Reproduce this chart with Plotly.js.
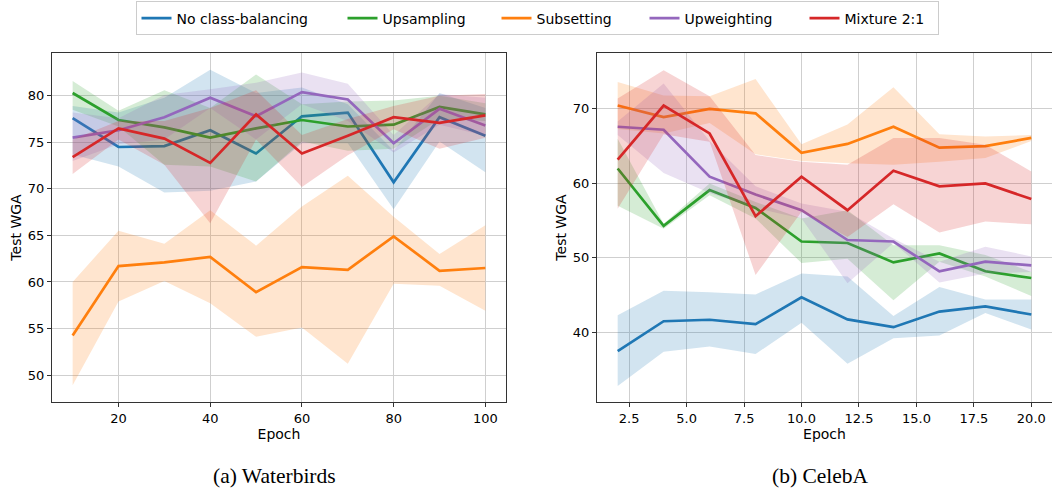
<!DOCTYPE html>
<html>
<head>
<meta charset="utf-8">
<script src="https://cdn.plot.ly/plotly-3.0.1.min.js"></script>
<style>html,body{margin:0;padding:0;background:#fff;}#chart{width:1052px;height:491px;}</style>
</head>
<body>
<div id="chart"></div>
<script>
// ---- Waterbirds (left panel) ----
const epochsA = [10,20,30,40,50,60,70,80,90,100];
const A_none    = [77.6,74.5,74.6,76.3,73.8,77.8,78.2,70.7,77.7,75.7];
const A_none_lo = [73.7,72.4,69.6,69.8,70.8,74.9,74.9,67.8,75.1,71.8];
const A_none_hi = [78.9,78.2,79.8,82.8,80.3,80.9,79.1,74.1,80.3,78.7];
const A_up      = [80.3,77.4,76.6,75.5,76.5,77.4,76.7,76.9,78.8,78.0];
const A_up_lo   = [78.5,76.7,72.6,72.4,70.8,75.1,74.1,74.3,77.5,77.3];
const A_up_hi   = [81.6,78.4,80.6,78.7,82.3,79.1,79.4,79.5,80.0,79.2];
const A_sub     = [54.25,61.7,62.1,62.7,58.9,61.6,61.3,64.9,61.2,61.5];
const A_sub_lo  = [48.9,57.9,60.1,57.7,54.1,55.1,51.2,59.8,59.6,56.9];
const A_sub_hi  = [60.0,65.5,64.1,67.7,63.9,68.1,71.4,67.0,63.0,66.1];
const A_wt      = [75.5,76.3,77.7,79.8,77.8,80.4,79.6,74.9,78.6,76.8];
const A_wt_lo   = [73.0,74.8,75.3,78.7,75.3,79.1,77.3,73.9,76.9,75.7];
const A_wt_hi   = [78.2,77.6,80.1,80.7,81.4,82.5,81.3,75.8,80.2,79.8];
const A_mix     = [73.4,76.5,75.4,72.8,78.0,73.8,75.7,77.7,77.1,77.9];
const A_mix_lo  = [71.6,75.3,72.6,66.3,75.3,70.2,73.6,76.4,74.3,75.5];
const A_mix_hi  = [75.3,77.3,77.3,78.7,80.6,75.8,77.5,78.9,80.0,80.2];

// ---- CelebA (right panel) ----
const epochsB = [2,4,6,8,10,12,14,16,18,20];
const B_none    = [37.5,41.5,41.7,41.1,44.7,41.75,40.7,42.8,43.5,42.4];
const B_none_lo = [32.8,37.4,38.1,37.1,41.3,35.8,39.2,39.6,42.6,40.4];
const B_none_hi = [42.3,45.6,45.4,45.1,47.9,47.5,42.2,46.1,44.4,44.4];
const B_up      = [62.0,54.3,59.1,56.7,52.2,52.0,49.4,50.6,48.2,47.3];
const B_up_lo   = [57.0,53.9,58.4,55.3,49.3,49.9,44.3,49.5,47.5,44.9];
const B_up_hi   = [66.0,54.6,60.0,57.5,55.3,56.4,51.7,51.7,50.4,48.1];
const B_sub     = [70.45,68.9,70.0,69.4,64.1,65.3,67.6,64.8,65.0,66.1];
const B_sub_lo  = [67.3,66.7,68.1,63.9,63.0,62.7,62.5,62.9,63.4,65.7];
const B_sub_hi  = [73.6,71.8,71.7,74.0,65.25,67.9,72.9,66.6,66.3,66.5];
const B_wt      = [67.6,67.2,60.9,58.5,56.4,52.4,52.2,48.2,49.5,49.0];
const B_wt_lo   = [66.5,61.4,58.7,56.7,55.3,46.6,52.0,46.7,47.9,48.1];
const B_wt_hi   = [68.3,73.4,65.7,59.6,57.3,56.2,52.6,49.5,51.5,50.2];
const B_mix     = [63.2,70.45,66.7,55.6,60.9,56.4,61.7,59.6,60.0,57.9];
const B_mix_lo  = [56.6,66.6,65.6,47.7,56.2,52.8,57.2,53.4,54.9,54.5];
const B_mix_hi  = [71.4,75.2,71.7,63.8,62.9,62.5,66.1,66.1,65.2,61.6];

const seriesNames = ['No class-balancing','Upsampling','Subsetting','Upweighting','Mixture 2:1'];
const colors = ['#1f77b4','#2ca02c','#ff7f0e','#9467bd','#d62728'];
const fills = ['rgba(31,119,180,0.2)','rgba(44,160,44,0.2)','rgba(255,127,14,0.2)','rgba(148,103,189,0.2)','rgba(214,39,40,0.2)'];
const legendWidths = [161,109,103,115,88];

const panelA = [[A_none,A_none_lo,A_none_hi],[A_up,A_up_lo,A_up_hi],[A_sub,A_sub_lo,A_sub_hi],[A_wt,A_wt_lo,A_wt_hi],[A_mix,A_mix_lo,A_mix_hi]];
const panelB = [[B_none,B_none_lo,B_none_hi],[B_up,B_up_lo,B_up_hi],[B_sub,B_sub_lo,B_sub_hi],[B_wt,B_wt_lo,B_wt_hi],[B_mix,B_mix_lo,B_mix_hi]];

const traces = [];
function addPanel(epochs, panel, xa, ya, showLegend){
  panel.forEach((s,i)=>{
    const [mean, lo, hi] = s;
    traces.push({
      x: epochs.concat(epochs.slice().reverse()),
      y: hi.concat(lo.slice().reverse()),
      xaxis: xa, yaxis: ya, type:'scatter', mode:'lines',
      fill:'toself', fillcolor: fills[i], line:{width:0, color:'rgba(0,0,0,0)'},
      showlegend:false, hoverinfo:'skip'
    });
    traces.push({
      x: epochs, y: mean, xaxis: xa, yaxis: ya, type:'scatter', mode:'lines',
      name: seriesNames[i], line:{color: colors[i], width:2.7},
      showlegend: showLegend, legendwidth: legendWidths[i]
    });
  });
}
addPanel(epochsA, panelA, 'x', 'y', true);
addPanel(epochsB, panelB, 'x2', 'y2', false);

const font = 'DejaVu Sans, sans-serif';
const axisCommon = {
  showgrid:true, gridcolor:'#cfcfcf', gridwidth:1,
  showline:true, linecolor:'#333', linewidth:1, mirror:true,
  ticks:'outside', ticklen:4, tickcolor:'#333',
  tickfont:{family:font, size:13, color:'#000'},
  zeroline:false
};

const layout = {
  width:1052, height:491,
  margin:{l:0, r:0, t:53, b:89},
  paper_bgcolor:'#fff', plot_bgcolor:'#fff',
  font:{family:font, color:'#000'},
  showlegend:true,
  legend:{orientation:'h', x:537/1052, xanchor:'center', y:0.997, yref:'container', yanchor:'top',
          font:{family:font, size:14, color:'#000'}, bordercolor:'#cccccc', borderwidth:1, bgcolor:'#fff'},
  xaxis: Object.assign({}, axisCommon, {domain:[52/1052, 506/1052], range:[5.5,104.5], tick0:0, dtick:20,
          title:{text:'Epoch', font:{family:font, size:14}, standoff:2}}),
  yaxis: Object.assign({}, axisCommon, {range:[47.1,84.6], tick0:0, dtick:5,
          title:{text:'Test WGA', font:{family:font, size:14}, standoff:2}}),
  xaxis2: Object.assign({}, axisCommon, {domain:[597/1052, 1], anchor:'y2', range:[1.1,20.9], tick0:0, dtick:2.5, tickformat:'.1f',
          title:{text:'Epoch', font:{family:font, size:14}, standoff:2}}),
  yaxis2: Object.assign({}, axisCommon, {anchor:'x2', range:[30.66,77.5], tick0:0, dtick:10,
          title:{text:'Test WGA', font:{family:font, size:14}, standoff:2}}),
  annotations:[
    {text:'(a) Waterbirds', xref:'paper', yref:'paper', x:274/1052, y:-(476-402)/349, xanchor:'center', yanchor:'middle',
     showarrow:false, font:{family:'Liberation Serif, Times New Roman, serif', size:21.5, color:'#000'}},
    {text:'(b) CelebA', xref:'paper', yref:'paper', x:820/1052, y:-(476-402)/349, xanchor:'center', yanchor:'middle',
     showarrow:false, font:{family:'Liberation Serif, Times New Roman, serif', size:21.5, color:'#000'}}
  ],
  hovermode:false
};

Plotly.newPlot('chart', traces, layout, {staticPlot:true, displayModeBar:false});
</script>
</body>
</html>
